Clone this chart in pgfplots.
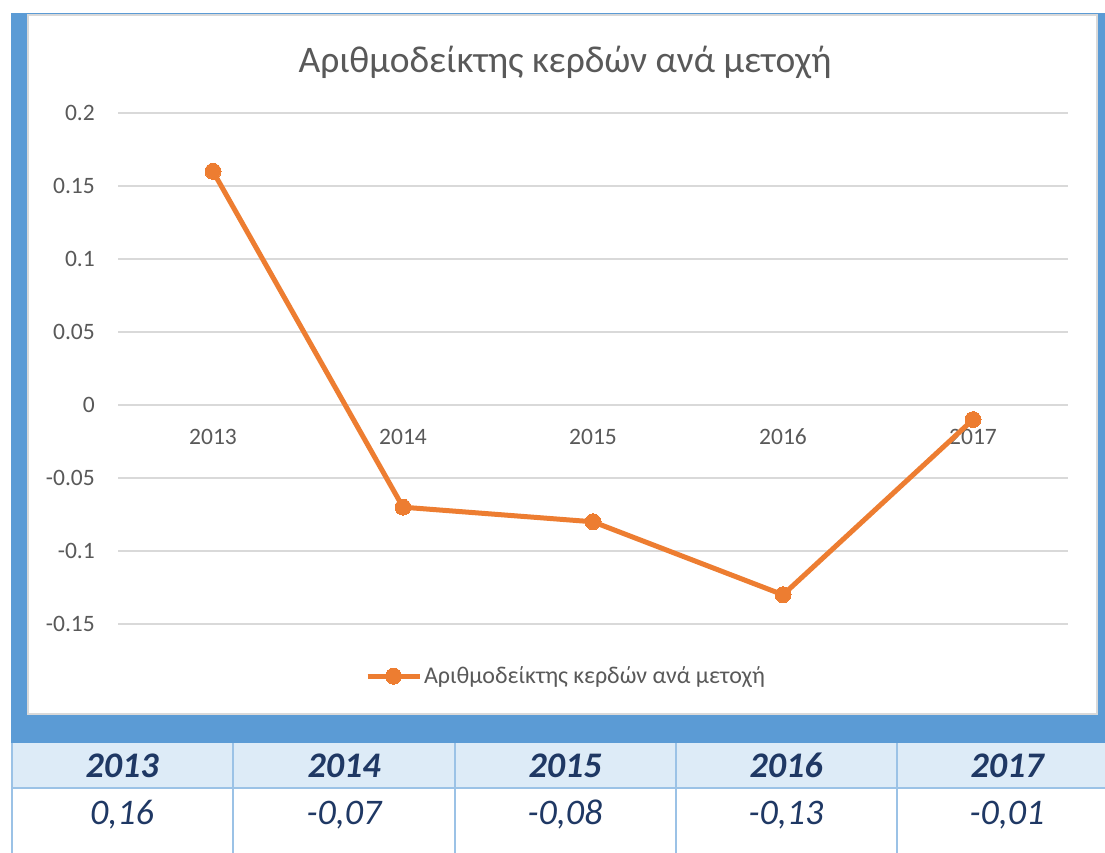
\documentclass[border=0pt]{standalone}
\usepackage{pgfplots}
\pgfplotsset{compat=1.18}
\usepackage{fontspec}
\setmainfont{Carlito}
\definecolor{frameblue}{HTML}{5B9BD5}
\definecolor{hdrfill}{HTML}{DDEBF7}
\definecolor{tblline}{HTML}{9BC2E6}
\definecolor{navy}{HTML}{1F3864}
\definecolor{txtgrey}{HTML}{595959}
\definecolor{grd}{HTML}{D9D9D9}
\definecolor{orng}{HTML}{ED7D31}
\begin{document}
\begin{tikzpicture}[x=1pt,y=1pt]
\useasboundingbox[fill=white] (0,0) rectangle (1105,853);
% frame
\fill[frameblue] (11,110) rectangle (1105,840);
\fill[white] (28,139) rectangle (1097,838);
\draw[grd, line width=1.5pt] (28,139) rectangle (1097,838);
% table
\fill[hdrfill] (11,65) rectangle (1105,110);
\draw[tblline, line width=2pt] (11,65) -- (1105,65);
\foreach \xx in {12,233,455,676,897} {\draw[tblline, line width=2pt] (\xx,0) -- (\xx,110);}
\foreach \xx/\yr/\vv in {122/2013/{0,16},344/2014/{-0,07},565/2015/{-0,08},786/2016/{-0,13},1007/2017/{-0,01}} {
  \node[navy, anchor=base, inner sep=0pt, font=\fontsize{36}{40}\selectfont\bfseries\itshape] at (\xx,75) {\yr};
  \node[navy, anchor=base, inner sep=0pt, font=\fontsize{36}{40}\selectfont\itshape] at (\xx,28) {\vv};
}
% title
\node[txtgrey, font=\fontsize{37.5}{42}\selectfont] at (565,791) {Αριθμοδείκτης κερδών ανά μετοχή};
\begin{axis}[
  at={(118pt,229pt)}, anchor=south west,
  scale only axis, width=950pt, height=511pt,
  xmin=-0.5, xmax=4.5, ymin=-0.15, ymax=0.2,
  axis x line=middle, axis y line=left,
  axis line style={draw=none},
  hide obscured x ticks=false, hide obscured y ticks=false,
  major tick length=0pt,
  xtick={0,1,2,3,4},
  xticklabels={2013,2014,2015,2016,2017},
  ytick={-0.15,-0.1,-0.05,0,0.05,0.1,0.15,0.2},
  yticklabels={-0.15,-0.1,-0.05,0,0.05,0.1,0.15,0.2},
  ymajorgrids,
  grid style={grd, line width=1.5pt},
  tick label style={txtgrey, font=\fontsize{23.5}{26}\selectfont, inner sep=0pt},
  xticklabel style={anchor=base, yshift=-40pt},
  yticklabel style={anchor=east, xshift=-23pt},
  legend style={at={(0.4716,-0.102)}, anchor=center, draw=none, fill=none,
    font=\fontsize{24}{27}\selectfont, text=txtgrey},
  legend image code/.code={
    \draw[mark repeat=2,mark phase=2,#1] plot coordinates {(0pt,0pt) (26pt,0pt) (52pt,0pt)};
  },
]
\addplot[orng, line width=5pt, mark=*, mark size=8pt,
  mark options={fill=orng, draw=orng, line width=0pt}]
  coordinates {(0,0.16) (1,-0.07) (2,-0.08) (3,-0.13) (4,-0.01)};
\addlegendentry{Αριθμοδείκτης κερδών ανά μετοχή}
\end{axis}
\end{tikzpicture}
\end{document}
